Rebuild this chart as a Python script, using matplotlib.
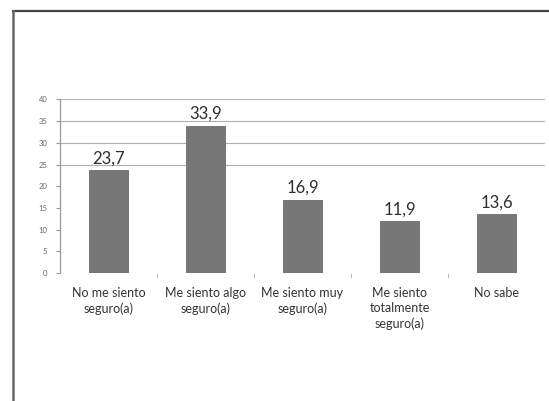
import matplotlib.pyplot as plt
from matplotlib.lines import Line2D

categories = ['No me siento\nseguro(a)', 'Me siento algo\nseguro(a)', 'Me siento muy\nseguro(a)',
              'Me siento\ntotalmente\nseguro(a)', 'No sabe']
values = [23.7, 33.9, 16.9, 11.9, 13.6]
value_labels = ['23,7', '33,9', '16,9', '11,9', '13,6']
yticks = [0, 5, 10, 15, 20, 25, 30, 35, 40]
grid_levels = [25, 30, 35, 40]

plt.rcParams['font.family'] = ['Lato', 'DejaVu Sans']

fig = plt.figure(figsize=(5.49, 4.01), dpi=100)
ax = fig.add_axes([0.109, 0.319, 0.884, 0.433])

x = list(range(len(values)))
ax.bar(x, values, width=0.4, color='#777777', edgecolor='#6a6a6a', linewidth=0.6, zorder=3)

for g in grid_levels:
    ax.axhline(g, color='#b0b0b0', linewidth=0.8, zorder=1)

for xi, v, lab in zip(x, values, value_labels):
    ax.text(xi, v + 0.9, lab, ha='center', va='bottom', fontsize=12, color='#2e2e2e')

ax.set_xlim(-0.5, len(values) - 0.5)
ax.set_ylim(0, 40)
ax.set_yticks(yticks)
ax.set_yticklabels([str(t) for t in yticks], fontsize=5.5, color='#666666')
ax.tick_params(axis='y', length=3, color='#999999', pad=6)

# category labels with tick marks at boundaries
ax.set_xticks(x)
ax.set_xticklabels(categories, fontsize=9, color='#333333', linespacing=1.3)
ax.tick_params(axis='x', length=0, pad=10)
for b in [0.5, 1.5, 2.5, 3.5]:
    ax.plot([b, b], [-0.8, -0.3], color='#bbbbbb', linewidth=0.8, clip_on=False)

for s in ['top', 'right']:
    ax.spines[s].set_visible(False)
ax.spines['bottom'].set_visible(False)
ax.spines['left'].set_color('#999999')
ax.spines['left'].set_linewidth(0.9)

# page frame
fig.add_artist(Line2D([12.5 / 549, 1], [1 - 10.5 / 401, 1 - 10.5 / 401], color='#444444', linewidth=1.6))
fig.add_artist(Line2D([12.5 / 549, 12.5 / 549], [0, 1 - 10.5 / 401], color='#666666', linewidth=1.8))

fig.savefig('out.png', dpi=100)
